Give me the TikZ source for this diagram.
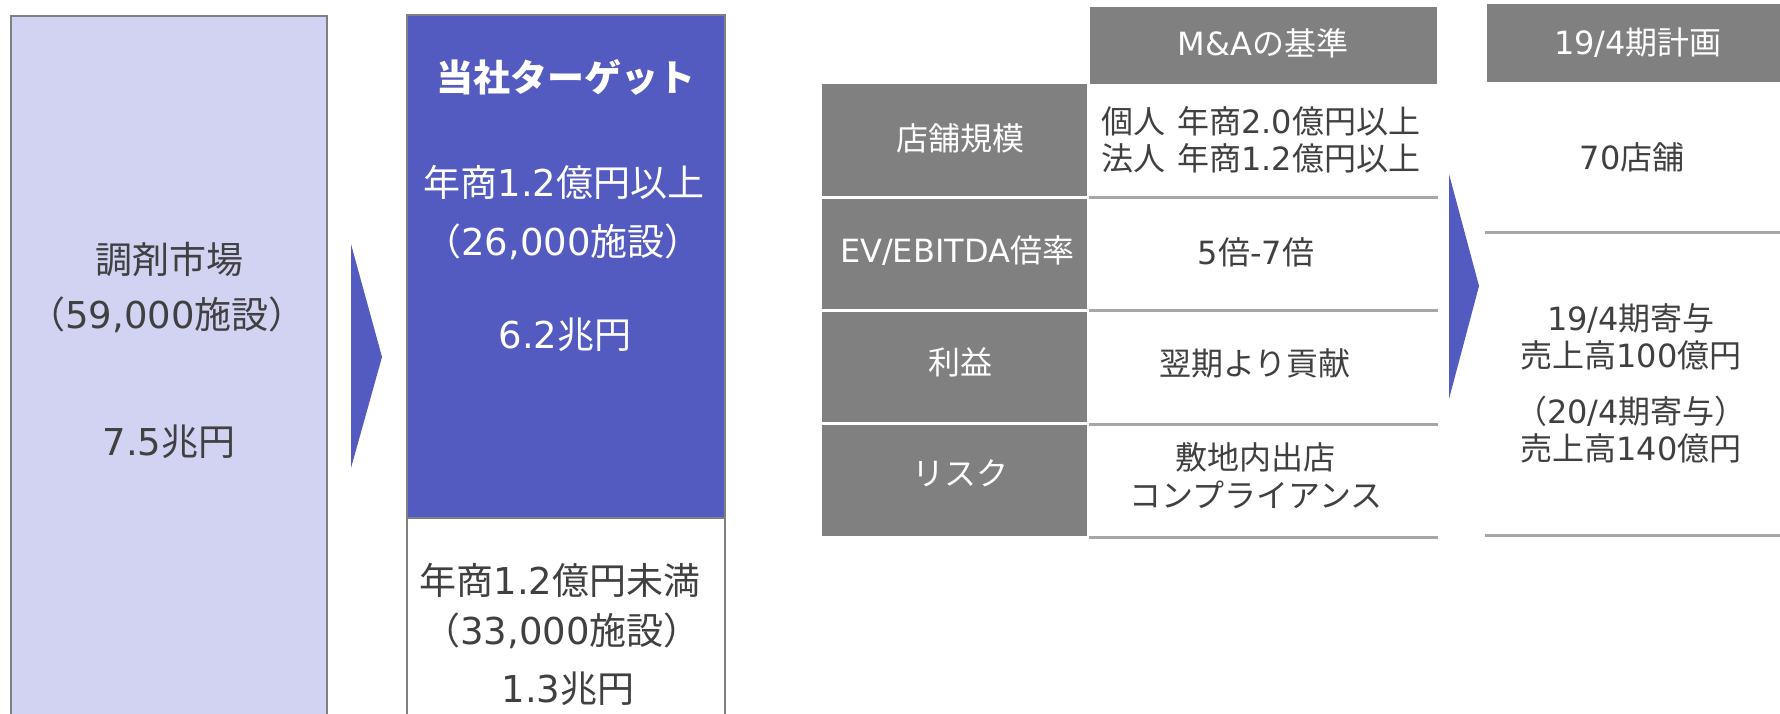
\documentclass[tikz,border=0pt]{standalone}
\usepackage{fontspec}
\setmainfont{Noto Sans CJK JP}
\newfontfamily\lat{DejaVu Sans}
\definecolor{lavender}{HTML}{D2D2F2}
\definecolor{target}{HTML}{545BC0}
\definecolor{boxgray}{HTML}{808080}
\definecolor{rulegray}{HTML}{A6A6A6}
\definecolor{ink}{HTML}{404040}

\begin{document}
\begin{tikzpicture}[x=0.5pt, y=-0.5pt,
    bigtext/.style={inner sep=0pt, text=ink, font=\fontsize{18.5}{22}\selectfont, text height=16.3pt, text depth=2.2pt},
    smalltext/.style={inner sep=0pt, text=ink, font=\fontsize{16}{19}\selectfont, text height=14.1pt, text depth=1.9pt},
    boxline/.style={draw=boxgray, line width=1.25pt},
    sepline/.style={rulegray, line width=1.5pt}]
                \useasboundingbox (0,0) rectangle (1780,713);
                \clip (0,0) rectangle (1780,713);
                % Market
                \filldraw [boxline, fill=lavender] (11,16) rectangle (327,740);
                \node [bigtext] (mkt) at (169,259) {調剤市場};
                \node [bigtext] (mktn) at (167,314) {（{\lat 59,000}施設）};
                \node [bigtext] (mktv) at (169,441) {{\lat 7.5}兆円};
                \fill [target] (351,244) -- (382,357) -- (351,468) -- cycle;
                % Target
                \filldraw [boxline, fill=target] (407,15) rectangle (725,518);
                \filldraw [boxline, fill=white] (407,518) rectangle (725,740);
                \node [bigtext, text=white, font=\fontsize{18.5}{22}\selectfont\bfseries] (tgt) at (566,77) {当社ターゲット};
                \node [bigtext, text=white] (tgta) at (564,182) {年商{\lat 1.2}億円以上};
                \node [bigtext, text=white] (tgtn) at (563,241) {（{\lat 26,000}施設）};
                \node [bigtext, text=white] (tgtv) at (565,334) {{\lat 6.2}兆円};
                \node [bigtext] (resta) at (560,580) {年商{\lat 1.2}億円未満};
                \node [bigtext] (restn) at (562,630) {（{\lat 33,000}施設）};
                \node [bigtext] (restv) at (568,688) {{\lat 1.3}兆円};
                % Criteria
                \fill [boxgray] (1090,7) rectangle (1437,84);
                \node [smalltext, text=white] (crit) at (1263,43) {{\lat M\&A}の基準};
                \fill [boxgray] (822,84) rectangle (1087,196);
                \fill [boxgray] (822,199) rectangle (1087,309);
                \fill [boxgray] (822,312) rectangle (1087,422);
                \fill [boxgray] (822,425) rectangle (1087,536);
                \node [smalltext, text=white] (size) at (960,138) {店舗規模};
                \node [smalltext, text=white] (mult) at (957,250) {{\lat EV/EBITDA}倍率};
                \node [smalltext, text=white] (prof) at (960,362) {利益};
                \node [smalltext, text=white] (risk) at (960,473) {リスク};
                \draw [sepline] (1089,197) -- (1438,197);
                \draw [sepline] (1089,310) -- (1438,310);
                \draw [sepline] (1089,424) -- (1438,424);
                \draw [sepline] (1089,537) -- (1438,537);
                \node [smalltext] (sizea) at (1261,121) {個人\hspace{0.35em}年商{\lat 2.0}億円以上};
                \node [smalltext] (sizeb) at (1261,158) {法人\hspace{0.35em}年商{\lat 1.2}億円以上};
                \node [smalltext] (multv) at (1256,252) {{\lat 5}倍{\lat -7}倍};
                \node [smalltext] (profv) at (1255,363) {翌期より貢献};
                \node [smalltext] (riska) at (1255,457) {敷地内出店};
                \node [smalltext] (riskb) at (1256,495) {コンプライアンス};
                \fill [target] (1449,174) -- (1479,286) -- (1449,399) -- cycle;
                % Plan
                \fill [boxgray] (1487,4) rectangle (1790,82);
                \node [smalltext, text=white] (plan) at (1638,42) {{\lat 19/4}期計画};
                \draw [sepline] (1485,232) -- (1790,232);
                \draw [sepline] (1485,535) -- (1790,535);
                \node [smalltext] (stores) at (1632,157) {{\lat 70}店舗};
                \node [smalltext] (c19a) at (1631,318) {{\lat 19/4}期寄与};
                \node [smalltext] (c19b) at (1631,355) {売上高{\lat 100}億円};
                \node [smalltext] (c20a) at (1631,411) {（{\lat 20/4}期寄与）};
                \node [smalltext] (c20b) at (1631,448) {売上高{\lat 140}億円};
            \end{tikzpicture}
\end{document}
